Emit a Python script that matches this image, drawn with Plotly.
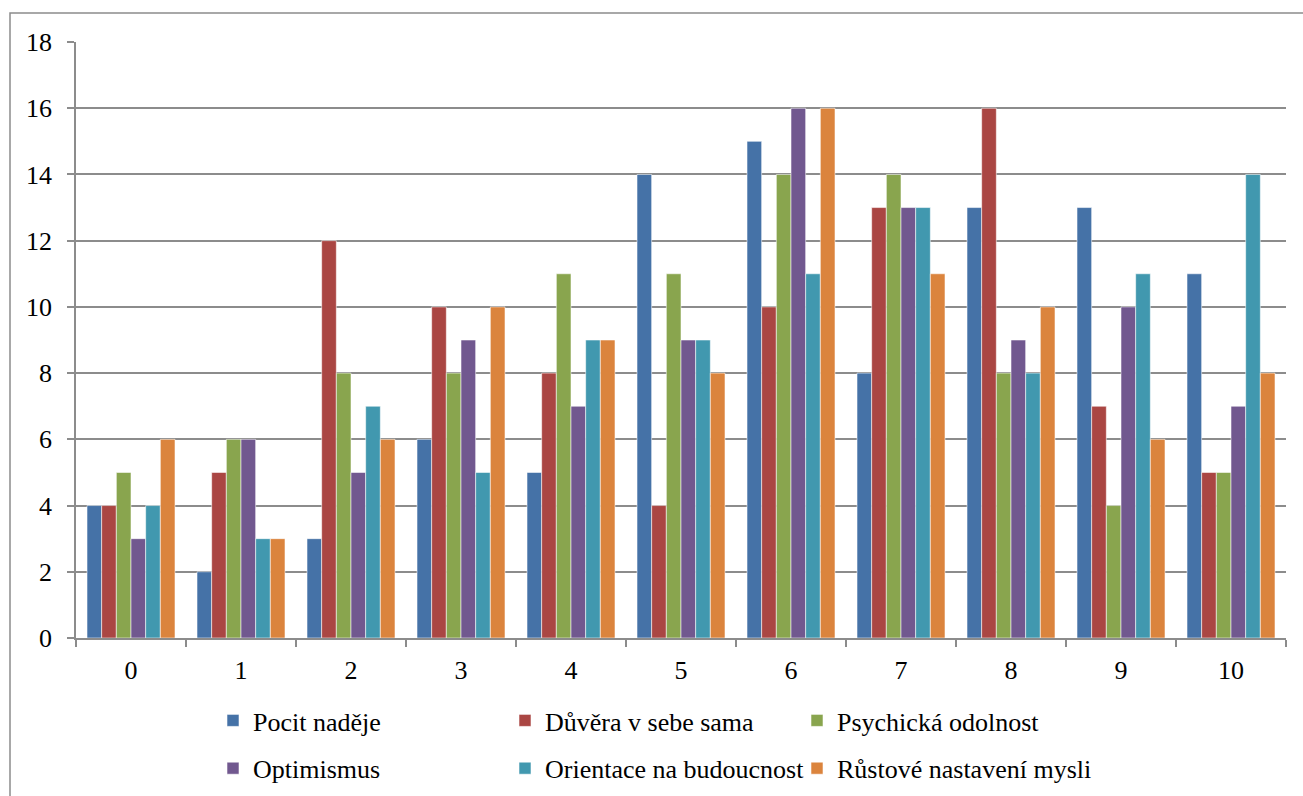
import plotly.graph_objects as go

# Score categories on the x axis
categories = ["0", "1", "2", "3", "4", "5", "6", "7", "8", "9", "10"]

# Counts per category for each dimension
pocit_nadeje = [4, 2, 3, 6, 5, 14, 15, 8, 13, 13, 11]
duvera = [4, 5, 12, 10, 8, 4, 10, 13, 16, 7, 5]
psychicka = [5, 6, 8, 8, 11, 11, 14, 14, 8, 4, 5]
optimismus = [3, 6, 5, 9, 7, 9, 16, 13, 9, 10, 7]
orientace = [4, 3, 7, 5, 9, 9, 11, 13, 8, 11, 14]
rustove = [6, 3, 6, 10, 9, 8, 16, 11, 10, 6, 8]

series = [
    ("Pocit naděje", pocit_nadeje, "#4572A7", "legend"),
    ("Důvěra v sebe sama", duvera, "#AA4643", "legend2"),
    ("Psychická odolnost", psychicka, "#89A54E", "legend3"),
    ("Optimismus", optimismus, "#71588F", "legend"),
    ("Orientace na budoucnost", orientace, "#4198AF", "legend2"),
    ("Růstové nastavení mysli", rustove, "#DB843D", "legend3"),
]

W, H = 1303, 796
L, R, T, B = 76, 17, 42, 158
pw, ph = W - L - R, H - T - B

def px(x):
    return (x - L) / pw

def py(y):
    return (H - B - y) / ph

font = dict(family="Liberation Serif", size=26, color="#000000")

fig = go.Figure()
for name, vals, color, lg in series:
    fig.add_trace(go.Bar(
        x=categories, y=vals, name=name, legend=lg,
        legendgroup=name,
        marker=dict(color=color, line=dict(color="rgba(255,255,255,0.55)", width=1)),
    ))

legend_common = dict(
    font=font, bgcolor="rgba(0,0,0,0)", orientation="v",
    xanchor="left", yanchor="top", tracegroupgap=11,
    traceorder="grouped", itemwidth=30,
)

fig.update_layout(
    width=W, height=H,
    margin=dict(l=L, r=R, t=T, b=B, pad=0, autoexpand=False),
    paper_bgcolor="white", plot_bgcolor="white",
    barmode="group", bargap=0.2, bargroupgap=0,
    font=font,
    xaxis=dict(
        type="category", showgrid=False, showline=True, automargin=False,
        linecolor="#8c8c8c", linewidth=1.5,
        ticks="outside", ticklen=7, tickcolor="#8c8c8c", tickwidth=1.5,
        tickson="boundaries", ticklabelstandoff=8,
        tickfont=font,
    ),
    yaxis=dict(
        range=[0, 18], dtick=2, showgrid=True, gridcolor="#8c8c8c", gridwidth=1.5,
        showline=True, linecolor="#8c8c8c", linewidth=1.5, automargin=False,
        ticks="outside", ticklen=7, tickcolor="#8c8c8c", tickwidth=1.5,
        ticklabelstandoff=10, zeroline=False, tickfont=font,
    ),
    legend=dict(x=px(213), y=py(697), **legend_common),
    legend2=dict(x=px(505), y=py(697), **legend_common),
    legend3=dict(x=px(797), y=py(697), **legend_common),
    shapes=[dict(
        type="rect", xref="paper", yref="paper",
        x0=px(10), x1=px(1310), y0=py(805), y1=py(13),
        line=dict(color="#8c8c8c", width=1.5), fillcolor="rgba(0,0,0,0)",
        layer="below",
    )],
)

fig.write_html("out.html")
